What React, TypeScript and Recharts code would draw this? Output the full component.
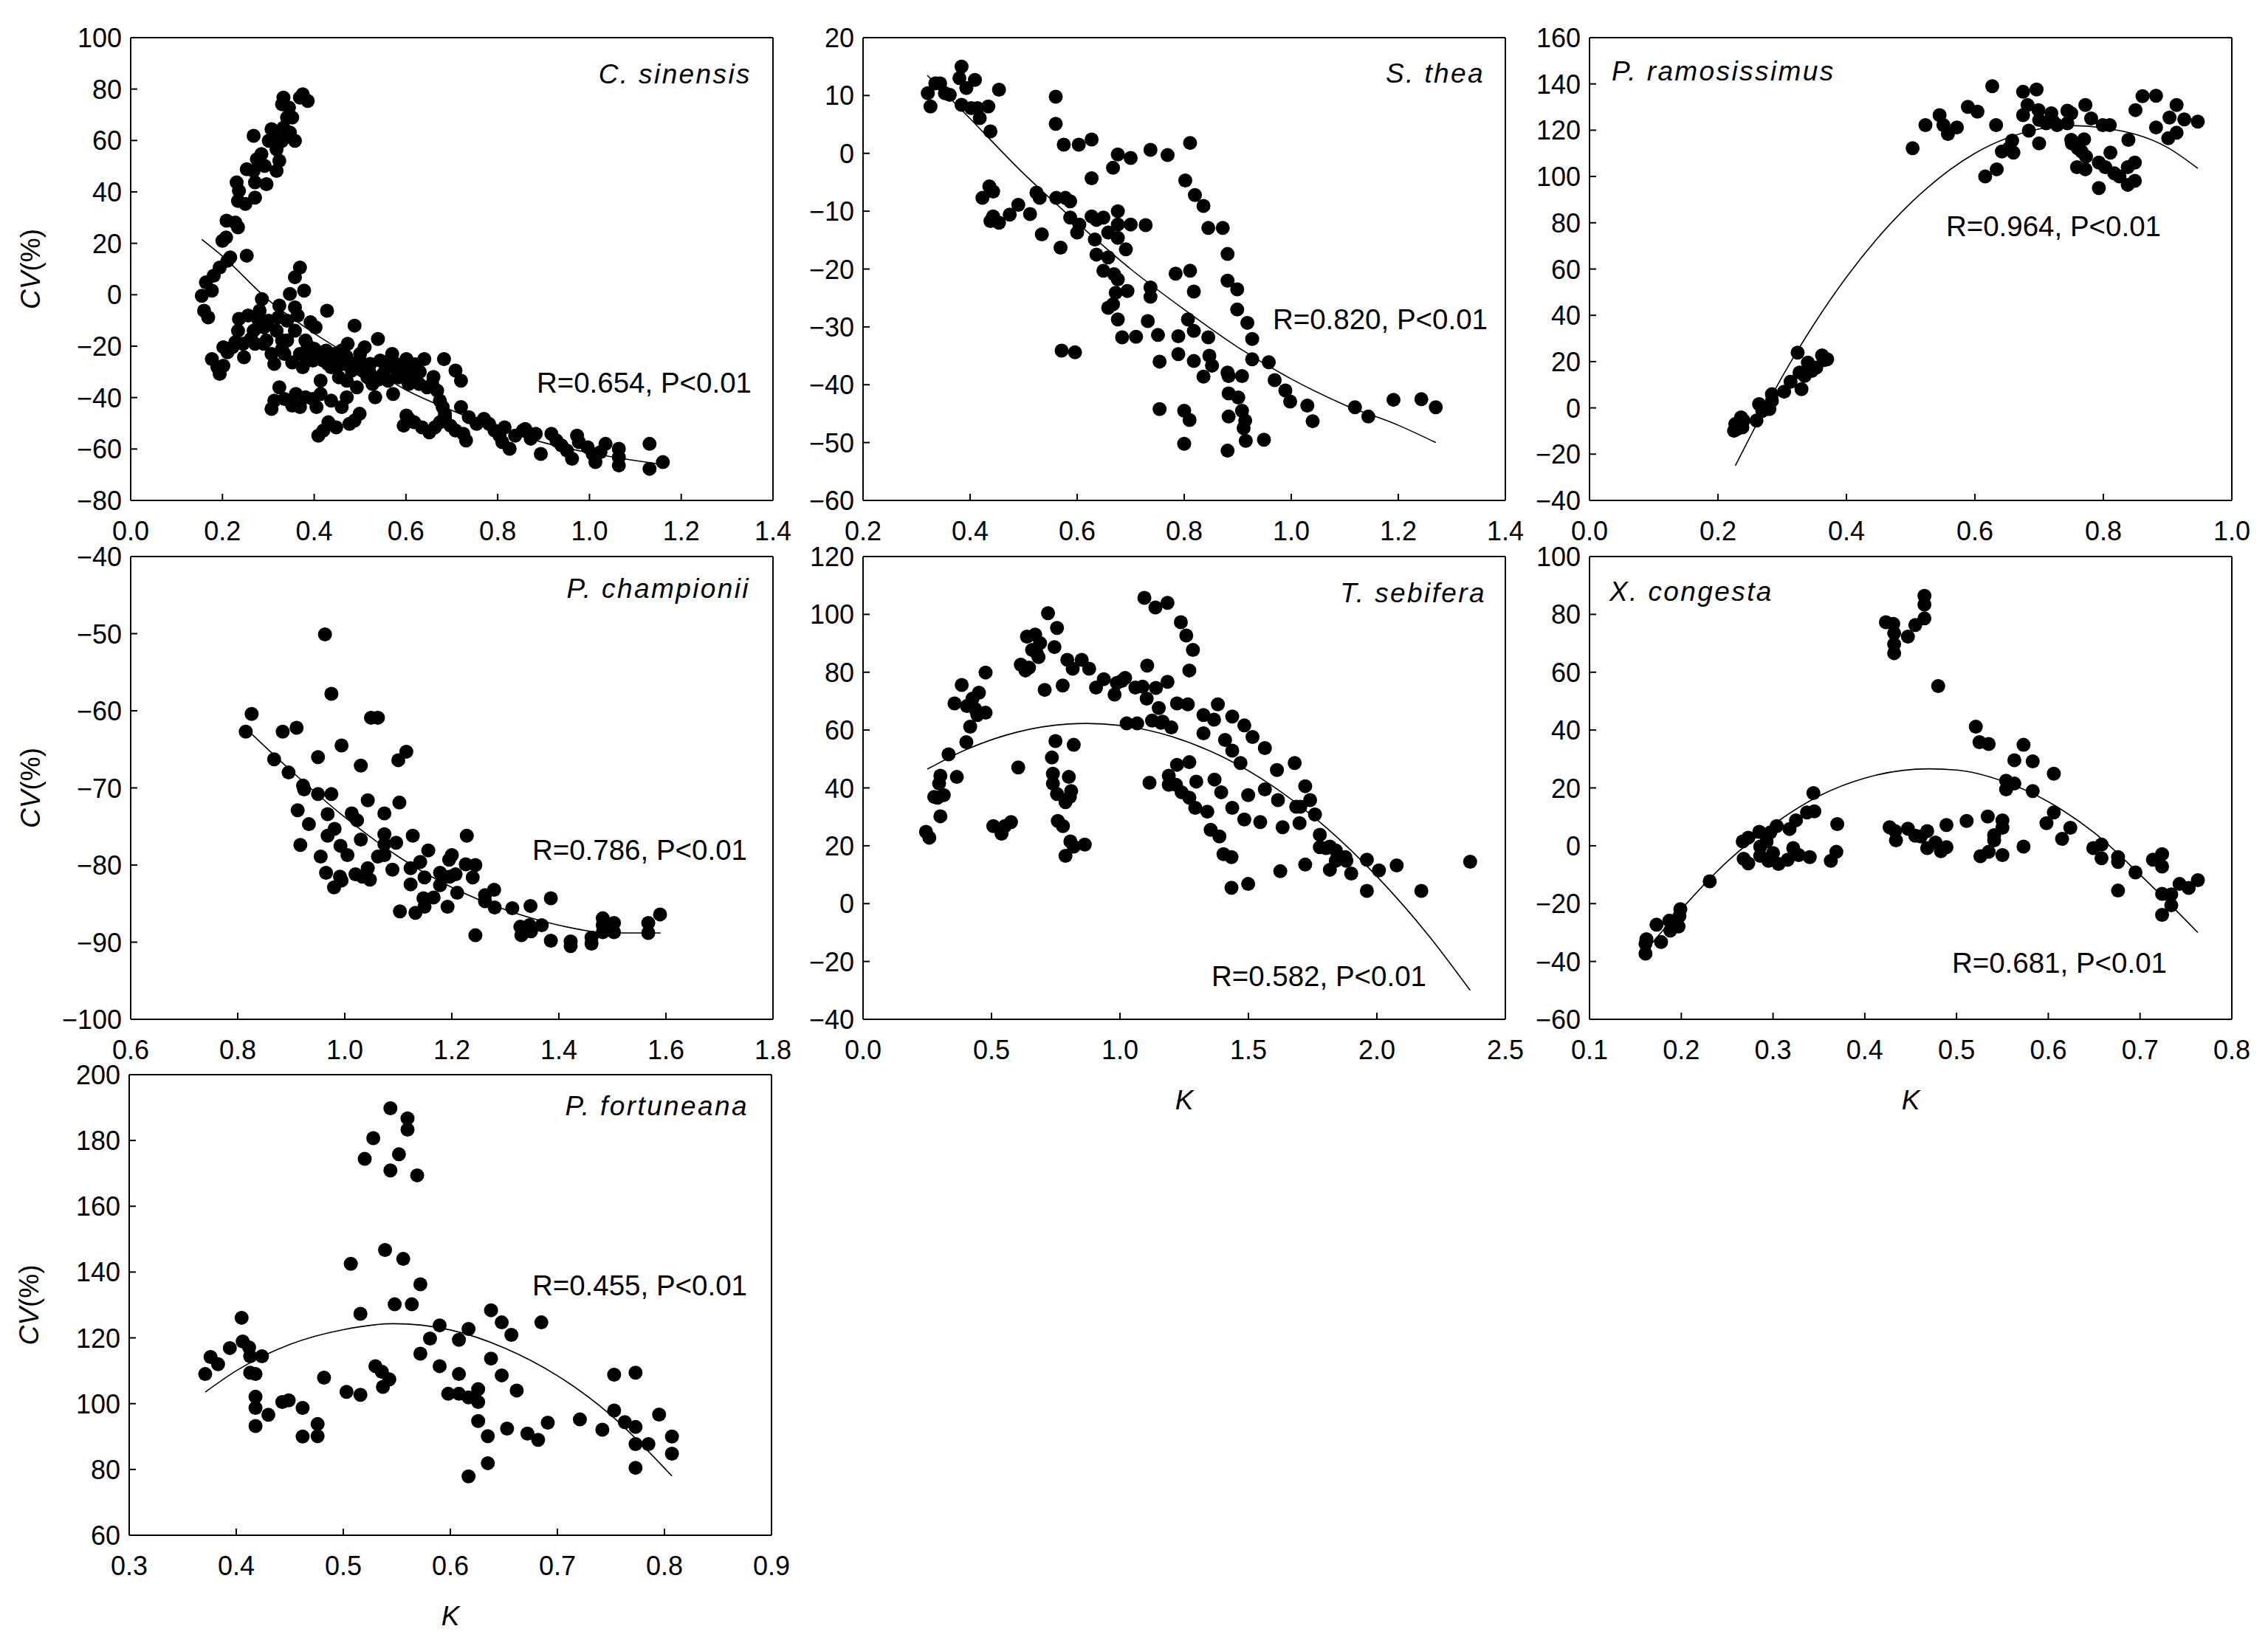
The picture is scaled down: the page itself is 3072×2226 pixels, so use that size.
import React from 'react';
import { ComposedChart, Scatter, Line, XAxis, YAxis, ReferenceLine } from 'recharts';

type Pt = [number, number];

const FONT = '"Liberation Sans", Arial, Helvetica, sans-serif';

// C. sinensis
const sinensisPts: Pt[] = [
  [0.155, -0.4], [0.16, -6.2], [0.169, -8.8], [0.164, 4.8], [0.177, 1.6], [0.181, 7.4], [0.194, 10.6], [0.2, 21],
  [0.208, 22.3], [0.209, 28.8], [0.217, 14.5], [0.211, 13.2], [0.228, 28.1], [0.234, 26.2], [0.234, 36.5], [0.236, 40.4],
  [0.231, 43.7], [0.25, 35.3], [0.253, 48.8], [0.271, 37.8], [0.271, 43.7], [0.268, 48.2], [0.268, 61.8], [0.275, 52.7],
  [0.285, 54.7], [0.296, 43], [0.292, 50.1], [0.301, 59.9], [0.307, 64.4], [0.318, 56.6], [0.318, 48.2], [0.324, 52.1],
  [0.313, 61.2], [0.33, 59.9], [0.33, 74.1], [0.333, 76.7], [0.345, 72.8], [0.341, 68.9], [0.352, 68.9], [0.347, 63.1],
  [0.333, 65], [0.358, 59.9], [0.369, 76.7], [0.375, 78], [0.386, 75.4], [0.253, 15.2],
  [0.177, -25], [0.189, -28.2], [0.194, -30.8], [0.202, -27.6], [0.202, -20.4], [0.211, -22.4], [0.222, -20.4], [0.228, -18.5],
  [0.234, -14], [0.236, -9.4], [0.247, -24.3], [0.245, -19.1], [0.256, -8.1], [0.262, -17.2], [0.268, -14], [0.271, -19.1],
  [0.279, -10.1], [0.281, -6.2], [0.286, -1.7], [0.29, -12.7], [0.29, -19.1], [0.296, -17.8], [0.301, -10.1], [0.307, -23],
  [0.313, -26.9], [0.318, -14], [0.322, -8.8], [0.324, -4.2], [0.33, -17.8], [0.33, -21.1], [0.335, -23], [0.341, -17.8],
  [0.341, -10.1], [0.347, 0.3], [0.352, -26.3], [0.358, -4.9], [0.358, -14], [0.358, 6.8], [0.364, -8.1], [0.369, 10.6],
  [0.369, -23], [0.375, -28.2], [0.378, 1.6], [0.381, -17.8], [0.386, -19.8], [0.392, -10.7], [0.397, -25.6], [0.403, -12.7],
  [0.409, -22.4], [0.414, -33.4], [0.42, -25.6], [0.426, -21.7], [0.428, -6.2], [0.437, -28.2], [0.443, -23], [0.448, -25.6],
  [0.454, -32.1], [0.46, -21.7], [0.465, -26.9], [0.471, -33.4], [0.473, -19.1], [0.482, -29.5], [0.488, -12], [0.493, -36],
  [0.499, -25.6], [0.505, -29.5], [0.51, -20.4], [0.516, -32.1], [0.522, -26.9], [0.527, -34.7], [0.533, -39.9], [0.539, -17.2],
  [0.544, -25.6], [0.55, -30.8], [0.556, -28.2], [0.561, -33.4], [0.57, -23], [0.572, -38.6], [0.578, -26.9], [0.584, -32.1],
  [0.595, -29.5], [0.601, -25], [0.606, -34.7], [0.612, -29.5], [0.618, -32.1], [0.629, -34.7], [0.64, -25], [0.646, -36],
  [0.657, -34.7], [0.668, -37.3], [0.674, -41.2], [0.68, -43.7], [0.683, -25], [0.685, -46.3], [0.708, -29.5], [0.72, -33.4],
  [0.72, -43.7], [0.45, -28], [0.47, -24], [0.49, -27], [0.52, -30], [0.54, -33], [0.56, -26], [0.58, -30], [0.6, -31],
  [0.62, -27], [0.63, -30], [0.66, -32], [0.5, -23], [0.43, -27], [0.4, -21], [0.38, -24],
  [0.307, -44.4], [0.313, -41.2], [0.324, -36], [0.335, -40.5], [0.352, -43.1], [0.36, -38.6], [0.369, -43.7], [0.381, -39.9],
  [0.397, -40.5], [0.405, -43.7], [0.414, -38.6], [0.409, -54.8], [0.42, -52.8], [0.431, -49.6], [0.437, -41.2], [0.448, -51.6],
  [0.46, -43.7], [0.471, -39.9], [0.477, -50.2], [0.488, -48.9], [0.499, -46.3], [0.595, -50.9], [0.601, -47], [0.606, -48.3],
  [0.618, -49.6], [0.635, -51.6], [0.651, -53.5], [0.663, -51.6], [0.674, -49.6], [0.685, -47.6], [0.697, -50.9], [0.708, -52.8],
  [0.725, -54.1], [0.731, -56.7], [0.737, -47.6], [0.754, -50.2], [0.77, -48.3], [0.781, -50.2], [0.793, -52.8], [0.804, -54.8],
  [0.81, -57.3], [0.826, -59.9], [0.815, -51.6], [0.838, -54.8], [0.855, -52.8], [0.86, -52.2], [0.872, -56], [0.883, -54.1],
  [0.894, -61.9], [0.917, -54.1], [0.928, -56.7], [0.939, -58.6], [0.951, -60.6], [0.962, -63.8], [0.973, -54.8], [0.977, -57.3],
  [0.996, -59.3], [1.007, -61.9], [1.013, -65.1], [1.024, -61.2], [1.035, -58], [1.064, -59.9], [1.064, -63.2], [1.064, -66.4],
  [1.131, -58], [1.131, -67.7], [1.16, -65.1],
];
const sinensisFit: Pt[] = [
  [0.155, 21.5], [0.2, 15], [0.3, -2], [0.4, -15], [0.5, -26], [0.6, -37], [0.7, -45], [0.8, -52], [0.9, -57.5],
  [1.0, -61.5], [1.1, -64.5], [1.16, -66],
];
const sinensisX = [0, 0.2, 0.4, 0.6, 0.8, 1.0, 1.2, 1.4];
const sinensisY = [-80, -60, -40, -20, 0, 20, 40, 60, 80, 100];

// S. thea
const theaPts: Pt[] = [
  [0.321, 10.4], [0.326, 8.1], [0.335, 12.1], [0.344, 12.1], [0.353, 10.4], [0.362, 10.1], [0.38, 13], [0.384, 15],
  [0.384, 8.4], [0.393, 11.3], [0.402, 7.8], [0.409, 12.7], [0.414, 7.8], [0.418, 6.1], [0.434, 8.1], [0.438, 3.8],
  [0.454, 11], [0.423, -7.7], [0.436, -5.7], [0.443, -6.6], [0.438, -11.7], [0.443, -10.9], [0.454, -12], [0.474, -10.6],
  [0.49, -8.9], [0.512, -10.5], [0.524, -6.8], [0.53, -7.7], [0.534, -14], [0.56, 9.8], [0.56, 5.1], [0.561, -7.7],
  [0.569, -16.3], [0.571, -34.1], [0.575, 1.5], [0.578, -7.7], [0.587, -8.3], [0.587, -11.1], [0.596, -34.4], [0.6, -13.7],
  [0.603, 1.5], [0.604, -12.3], [0.627, 2.4], [0.627, -4.3], [0.627, -10.9], [0.633, -14.9], [0.636, -11.5], [0.636, -17.5],
  [0.649, -11.1], [0.649, -20.3], [0.658, -13.7], [0.658, -18], [0.658, -26.7], [0.667, -2.5], [0.667, -26.1], [0.669, -20.9],
  [0.672, -24.1], [0.676, -0.2], [0.676, -10], [0.676, -12.3], [0.676, -14.6], [0.676, -21.8], [0.676, -28.7], [0.684, -31.8],
  [0.691, -16.6], [0.694, -23.8], [0.7, -12.3], [0.7, -0.8], [0.71, -31.7], [0.728, -12.4], [0.732, -29], [0.737, 0.6],
  [0.737, -23.2], [0.737, -24.8], [0.751, -31.4], [0.754, -36], [0.754, -44.2], [0.769, -0.3], [0.784, -20.8], [0.789, -31.6],
  [0.789, -34.7], [0.8, -50.2], [0.8, -44.5], [0.802, -4.7], [0.807, -28.7], [0.81, -46.1], [0.811, -20.3], [0.811, 1.8],
  [0.818, -30.7], [0.818, -23.9], [0.818, -35.9], [0.82, -7.2], [0.836, -9.1], [0.836, -38.6], [0.845, -12.9], [0.845, -31.8],
  [0.847, -35], [0.852, -36.7], [0.872, -12.9], [0.881, -17.4], [0.881, -22], [0.881, -37.9], [0.883, -38.5], [0.883, -41.5],
  [0.883, -45.5], [0.881, -51.4], [0.899, -23.5], [0.899, -27], [0.901, -42.2], [0.908, -38.5], [0.908, -44.5], [0.911, -47.5],
  [0.914, -46.2], [0.915, -49.7], [0.918, -29.3], [0.927, -32.1], [0.927, -35.6], [0.949, -49.5], [0.958, -36.1], [0.969, -39.2],
  [0.989, -41], [0.998, -42.9], [1.03, -43.6], [1.04, -46.3], [1.119, -43.9], [1.144, -45.5], [1.191, -42.6], [1.243, -42.5],
  [1.27, -43.9],
];
const theaFit: Pt[] = [
  [0.32, 13.5], [0.4, 6], [0.5, -3.5], [0.6, -12], [0.7, -20], [0.8, -27], [0.9, -33.5], [1.0, -39], [1.1, -43.5],
  [1.2, -47], [1.27, -50],
];
const theaX = [0.2, 0.4, 0.6, 0.8, 1.0, 1.2, 1.4];
const theaY = [-60, -50, -40, -30, -20, -10, 0, 10, 20];

// P. ramosissimus
const ramosPts: Pt[] = [
  [0.225, -9.9], [0.227, -7], [0.23, -9.1], [0.232, -6.3], [0.236, -4.1], [0.24, -5.5], [0.238, -8.4], [0.26, -5.5],
  [0.264, 1.6], [0.269, -1.3], [0.28, -0.5], [0.284, 3.1], [0.284, 5.9], [0.303, 7], [0.313, 11.3], [0.324, 23.9],
  [0.327, 15.3], [0.33, 8.1], [0.335, 13.8], [0.34, 19.6], [0.346, 16], [0.353, 17.4], [0.362, 22.7], [0.365, 20.7],
  [0.37, 21],
  [0.503, 112.2], [0.523, 122.2], [0.545, 126.5], [0.551, 122.2], [0.558, 118.4], [0.572, 121.2], [0.589, 130.1], [0.604, 128],
  [0.616, 100], [0.627, 139], [0.633, 122.2], [0.634, 103.1], [0.642, 110.8], [0.653, 112.2], [0.658, 115.5], [0.66, 110.3],
  [0.675, 136.6], [0.675, 126.5], [0.682, 130.9], [0.684, 119.8], [0.696, 137.6], [0.699, 128.7], [0.7, 124.4], [0.7, 114.3],
  [0.711, 123], [0.719, 127.3], [0.722, 123.7], [0.728, 122.2], [0.744, 128.4], [0.744, 123], [0.75, 127.3], [0.75, 115.8],
  [0.751, 114.3], [0.759, 104], [0.76, 112.2], [0.766, 110.8], [0.77, 116.1], [0.772, 130.9], [0.772, 103.1], [0.773, 108.6],
  [0.781, 125.1], [0.793, 106], [0.793, 95], [0.799, 122.2], [0.803, 104], [0.81, 122.2], [0.811, 110.3], [0.817, 101.4],
  [0.825, 100], [0.838, 104], [0.838, 96.4], [0.839, 115.8], [0.849, 106], [0.849, 98.1], [0.85, 128.7], [0.861, 134.7],
  [0.882, 134.9], [0.882, 121.2], [0.901, 116.5], [0.903, 125.5], [0.914, 130.9], [0.914, 118.9], [0.926, 124.7], [0.947, 123.7],
];
const ramosFit: Pt[] = [
  [0.227, -25], [0.3, 13.5], [0.4, 56.5], [0.5, 88.5], [0.6, 110], [0.7, 120.5], [0.75, 122], [0.8, 121], [0.9, 112.5],
  [0.947, 103.5],
];
const ramosX = [0, 0.2, 0.4, 0.6, 0.8, 1.0];
const ramosY = [-40, -20, 0, 20, 40, 60, 80, 100, 120, 140, 160];

// P. championii
const champPts: Pt[] = [
  [0.815, -62.7], [0.826, -60.4], [0.868, -66.3], [0.884, -62.7], [0.895, -68], [0.91, -62.2], [0.912, -72.9], [0.917, -77.4],
  [0.922, -69.7], [0.924, -70.2], [0.933, -74.7], [0.95, -66], [0.95, -70.8], [0.955, -78.9], [0.963, -50.1], [0.965, -81],
  [0.968, -76.2], [0.968, -73.4], [0.975, -70.8], [0.975, -57.8], [0.98, -82.9], [0.981, -75.3], [0.991, -81.5], [0.992, -77.5],
  [0.994, -82], [0.994, -64.5], [1.005, -78.7], [1.013, -73.3], [1.02, -81.2], [1.023, -74.2], [1.03, -76.7], [1.03, -67.1],
  [1.033, -81.5], [1.043, -71.6], [1.043, -80.4], [1.047, -81.9], [1.049, -60.9], [1.062, -60.9], [1.062, -78.9], [1.074, -73.3],
  [1.074, -76], [1.074, -77.3], [1.074, -78.7], [1.089, -80.6], [1.096, -77.1], [1.1, -66.4], [1.102, -71.9], [1.103, -86],
  [1.115, -65.3], [1.123, -80.4], [1.123, -82.5], [1.127, -76.2], [1.132, -86.2], [1.141, -79.6], [1.147, -84.3], [1.149, -85.4],
  [1.149, -81.6], [1.156, -78.1], [1.166, -84.2], [1.178, -82.6], [1.178, -81], [1.192, -85.4], [1.195, -79.3], [1.196, -81.5],
  [1.2, -78.7], [1.207, -81.2], [1.21, -83.6], [1.226, -79.9], [1.228, -76.2], [1.239, -81.6], [1.244, -80], [1.244, -89.1],
  [1.262, -83.9], [1.262, -84.7], [1.279, -83.2], [1.28, -85.5], [1.313, -85.6], [1.328, -88], [1.33, -89.1], [1.345, -87.8],
  [1.347, -85.3], [1.348, -88.6], [1.368, -87.8], [1.385, -84.3], [1.385, -89.8], [1.422, -89.9], [1.422, -90.5], [1.461, -89.4],
  [1.461, -90.2], [1.482, -86.9], [1.482, -87.8], [1.482, -88.7], [1.503, -87.5], [1.503, -88.7], [1.567, -87.5], [1.567, -88.8],
  [1.589, -86.4],
];
const champFit: Pt[] = [
  [0.826, -63], [0.9, -67.8], [1.0, -73.8], [1.1, -78.9], [1.2, -82.9], [1.3, -85.8], [1.4, -87.8], [1.5, -88.8], [1.59, -88.8],
];
const champX = [0.6, 0.8, 1.0, 1.2, 1.4, 1.6, 1.8];
const champY = [-100, -90, -80, -70, -60, -50, -40];

// T. sebifera
const sebiferaPts: Pt[] = [
  [0.245, 24.8], [0.258, 22.8], [0.277, 36.9], [0.29, 36.6], [0.296, 41.5], [0.301, 44.2], [0.301, 30.2], [0.314, 37.5],
  [0.333, 51.6], [0.356, 69.2], [0.365, 43.8], [0.384, 75.6], [0.402, 55.8], [0.404, 68.3], [0.417, 61.2], [0.426, 70.9],
  [0.436, 67.3], [0.445, 65.2], [0.451, 72.9], [0.477, 79.9], [0.477, 66], [0.507, 26.8], [0.539, 24.2], [0.552, 26.8],
  [0.576, 28.2], [0.604, 47.1], [0.614, 82.6], [0.632, 80.6], [0.638, 92.3], [0.646, 81.6], [0.658, 87.7], [0.67, 93],
  [0.676, 86.6], [0.683, 85.2], [0.689, 90.1], [0.707, 73.9], [0.72, 100.4], [0.735, 50.5], [0.739, 44.9], [0.739, 41.5],
  [0.745, 88.7], [0.749, 56.2], [0.755, 95.3], [0.755, 37.9], [0.758, 28.6], [0.777, 75.4], [0.778, 26.8], [0.788, 35.1],
  [0.788, 16.5], [0.795, 84.3], [0.801, 43.8], [0.805, 36.9], [0.807, 21.5], [0.81, 38.9], [0.816, 81.2], [0.82, 54.9],
  [0.82, 19.7], [0.851, 84.3], [0.863, 20.4], [0.88, 81.2], [0.907, 74.7], [0.937, 77.6], [0.979, 72.3], [0.988, 76.3],
  [1.007, 77], [1.02, 78], [1.026, 62.3], [1.06, 74.7], [1.067, 62.3], [1.088, 75], [1.095, 105.7], [1.104, 70.9],
  [1.106, 82.3], [1.115, 41.8], [1.125, 63.3], [1.138, 102.4], [1.14, 74.6], [1.151, 67.6], [1.16, 62.5], [1.166, 62.9],
  [1.185, 104], [1.185, 76.7], [1.19, 44.2], [1.19, 41.1], [1.2, 60.9], [1.218, 41.1], [1.222, 48], [1.222, 69.2],
  [1.237, 97.3], [1.24, 38.5], [1.258, 92.7], [1.264, 68.9], [1.27, 48.9], [1.27, 80.6], [1.27, 36.6], [1.284, 87.7],
  [1.293, 33.1], [1.297, 42.2], [1.325, 65.2], [1.325, 58.9], [1.34, 31.8], [1.353, 25.5], [1.366, 63.6], [1.368, 42.9],
  [1.381, 68.9], [1.387, 23.2], [1.394, 38.5], [1.403, 17.1], [1.434, 16.1], [1.434, 5.5], [1.437, 64.7], [1.437, 52.9],
  [1.437, 33.1], [1.409, 56.6], [1.469, 48.6], [1.484, 61.6], [1.484, 29.1], [1.499, 37.5], [1.499, 6.8], [1.516, 57.6],
  [1.546, 28.2], [1.564, 39.5], [1.564, 53.8], [1.611, 46.2], [1.615, 35.8], [1.624, 11.2], [1.633, 26.4], [1.68, 48.6],
  [1.686, 33.5], [1.699, 27.8], [1.702, 33.5], [1.721, 40.6], [1.721, 13.5], [1.74, 35.8], [1.759, 30.8], [1.778, 23.8],
  [1.778, 19.5], [1.802, 19.2], [1.817, 19.7], [1.817, 11.7], [1.84, 14.8], [1.84, 18.4], [1.877, 16.1], [1.881, 14.8],
  [1.9, 10.4], [1.961, 15.2], [1.961, 4.4], [2.008, 11.5], [2.077, 13.2], [2.173, 4.4], [2.363, 14.5],
];
const sebiferaFit: Pt[] = [
  [0.25, 46.5], [0.4, 53.2], [0.6, 59.3], [0.8, 62.1], [0.87, 62.3], [1.0, 61.6], [1.2, 57.8], [1.4, 50.7], [1.6, 40.3],
  [1.8, 26.5], [2.0, 9.4], [2.2, -10.9], [2.363, -30],
];
const sebiferaX = [0, 0.5, 1.0, 1.5, 2.0, 2.5];
const sebiferaY = [-40, -20, 0, 20, 40, 60, 80, 100, 120];

// X. congesta
const congestaPts: Pt[] = [
  [0.161, -37.3], [0.161, -33.9], [0.162, -32.3], [0.173, -27.3], [0.178, -33.3], [0.187, -25.9], [0.188, -29.3], [0.197, -27.9],
  [0.198, -24.3], [0.199, -21.9], [0.231, -12.3], [0.267, 1.5], [0.268, -4.5], [0.273, 2.8], [0.273, -6.1], [0.285, 4.8],
  [0.286, -0.3], [0.286, -3.5], [0.293, 1.5], [0.295, -5.2], [0.297, 4.6], [0.3, -2.5], [0.304, 6.8], [0.306, -6.3],
  [0.316, -4.8], [0.318, 5.8], [0.322, -0.8], [0.325, 8.8], [0.328, -3.2], [0.337, 11.5], [0.34, -3.9], [0.344, 18.2],
  [0.345, 11.9], [0.363, -5.2], [0.369, -2.1], [0.37, 7.5], [0.423, 77.3], [0.427, 6.4], [0.431, 76.7], [0.432, 73.5],
  [0.432, 69.7], [0.432, 66.6], [0.433, 5.1], [0.434, 1.9], [0.447, 72.3], [0.447, 5.9], [0.455, 76.3], [0.455, 3.5],
  [0.461, 3.2], [0.465, 78.6], [0.465, 86.4], [0.465, 83.4], [0.468, 5.1], [0.468, -0.8], [0.477, 1.1], [0.48, 55.2],
  [0.483, -1.9], [0.489, 7.2], [0.489, -0.5], [0.511, 8.6], [0.521, 41.2], [0.525, 35.8], [0.526, -3.6], [0.534, 10.1],
  [0.535, 35.2], [0.535, -2.1], [0.541, 3.7], [0.541, 1.9], [0.55, 8.8], [0.55, 6.2], [0.55, -3.2], [0.554, 22.5],
  [0.554, 19.5], [0.563, 29.6], [0.563, 21.5], [0.573, 34.9], [0.573, -0.3], [0.583, 29.2], [0.583, 18.9], [0.598, 7.8],
  [0.606, 24.9], [0.606, 11.5], [0.615, 2.4], [0.624, 6.2], [0.649, -0.8], [0.658, 0.4], [0.658, -4.3], [0.676, -3.9],
  [0.676, -5.6], [0.676, -15.5], [0.695, -9.2], [0.714, -4.8], [0.724, -2.9], [0.724, -7.2], [0.724, -16.6], [0.724, -23.9],
  [0.734, -16.8], [0.734, -20.6], [0.743, -13.2], [0.753, -14.6], [0.763, -11.9],
];
const congestaFit: Pt[] = [
  [0.162, -36], [0.2, -22], [0.25, -5.5], [0.3, 7.3], [0.35, 17.2], [0.4, 23.4], [0.47, 26.6], [0.5, 26.2], [0.55, 22.4],
  [0.6, 15.2], [0.65, 4.5], [0.7, -10], [0.763, -30],
];
const congestaX = [0.1, 0.2, 0.3, 0.4, 0.5, 0.6, 0.7, 0.8];
const congestaY = [-60, -40, -20, 0, 20, 40, 60, 80, 100];

// P. fortuneana
const fortunePts: Pt[] = [
  [0.371, 109], [0.376, 114.2], [0.383, 112], [0.394, 116.9], [0.405, 126.1], [0.406, 118.9], [0.412, 117.1], [0.413, 114.4],
  [0.413, 109.4], [0.418, 109], [0.418, 102.1], [0.418, 98.7], [0.418, 93.2], [0.424, 114.4], [0.43, 96.6], [0.443, 100.5],
  [0.449, 101], [0.462, 98.7], [0.462, 90], [0.476, 93.8], [0.476, 90.1], [0.482, 107.9], [0.503, 103.6], [0.507, 142.5],
  [0.516, 127.3], [0.516, 102.7], [0.52, 174.4], [0.528, 180.7], [0.53, 111.4], [0.536, 109.7], [0.537, 105.1], [0.539, 146.7],
  [0.543, 107.4], [0.544, 189.8], [0.544, 170.9], [0.548, 130.2], [0.552, 175.8], [0.556, 144], [0.56, 186.7], [0.56, 183.3],
  [0.564, 130.2], [0.569, 169.4], [0.572, 136.3], [0.572, 115.2], [0.581, 119.8], [0.59, 123.8], [0.59, 111.4], [0.598, 103],
  [0.608, 103], [0.608, 119.4], [0.608, 109], [0.617, 122.7], [0.617, 101.9], [0.626, 104.4], [0.626, 100.5], [0.626, 94.7],
  [0.617, 77.9], [0.635, 90.1], [0.635, 81.9], [0.638, 128.4], [0.638, 113.7], [0.648, 124.7], [0.648, 108.6], [0.653, 92.4],
  [0.657, 120.9], [0.662, 104], [0.672, 90.9], [0.682, 89], [0.685, 124.7], [0.691, 94.2], [0.721, 95.2], [0.742, 92.1],
  [0.753, 108.8], [0.753, 97.9], [0.763, 94.4], [0.773, 109.4], [0.773, 92.9], [0.773, 87.7], [0.773, 80.5], [0.785, 87.7],
  [0.795, 96.7], [0.807, 90], [0.807, 84.8],
];
const fortuneFit: Pt[] = [
  [0.371, 103.5], [0.4, 110], [0.45, 118], [0.5, 122.5], [0.547, 124.3], [0.6, 122.4], [0.65, 117], [0.7, 108.5],
  [0.75, 96.5], [0.807, 78],
];
const fortuneX = [0.3, 0.4, 0.5, 0.6, 0.7, 0.8, 0.9];
const fortuneY = [60, 80, 100, 120, 140, 160, 180, 200];

const YW = 170;
const TM = 20;
const RM = 50;
const XH = 140;

const fmtY = (v: number) => (v < 0 ? `\u2212${Math.abs(v)}` : `${v}`);
const isEdge = (v: number, dom: number[]) => Math.abs(v - dom[0]) < 1e-9 || Math.abs(v - dom[1]) < 1e-9;

function XTick(props: any) {
  const { x, y, payload, dom } = props;
  const v = payload.value as number;
  return (
    <g>
      {!isEdge(v, dom) && <line x1={x} x2={x} y1={y} y2={y - 9} stroke="#000" strokeWidth={2} />}
      <text x={x} y={y + 54} textAnchor="middle" fontSize={36} fontFamily={FONT} fill="#000">
        {v.toFixed(1)}
      </text>
    </g>
  );
}

function YTick(props: any) {
  const { x, y, payload, dom } = props;
  const v = payload.value as number;
  const ax = x + 12;
  return (
    <g>
      {!isEdge(v, dom) && <line x1={ax} x2={ax + 9} y1={y} y2={y} stroke="#000" strokeWidth={2} />}
      <text x={x} y={y + 13} textAnchor="end" fontSize={36} fontFamily={FONT} fill="#000">
        {fmtY(v)}
      </text>
    </g>
  );
}

const Dot = (p: any) => <circle cx={p.cx} cy={p.cy} r={9.5} fill="#000" />;

type PanelProps = {
  pts: Pt[];
  fit: Pt[];
  xTicks: number[];
  yTicks: number[];
  left: number;
  top: number;
  w: number;
  h: number;
  species: string;
  speciesSide: 'left' | 'right';
  speciesDx: number;
  speciesDy: number;
  stat: string;
  statDx: number;
  statDy: number;
  yTitle?: boolean;
  xTitle?: boolean;
};

function Panel(p: PanelProps) {
  const data = p.pts.map(([k, cv]) => ({ k, cv }));
  const fitData = p.fit.map(([k, cv]) => ({ k, cv }));
  const xDom = [p.xTicks[0], p.xTicks[p.xTicks.length - 1]];
  const yDom = [p.yTicks[0], p.yTicks[p.yTicks.length - 1]];
  const W = YW + p.w + RM;
  const H = TM + p.h + XH;
  const axisLine = { stroke: '#000', strokeWidth: 2 };

  return (
    <div style={{ position: 'absolute', left: p.left - YW, top: p.top - TM, width: W, height: H }}>
      <ComposedChart width={W} height={H} margin={{ top: TM, right: RM, left: 0, bottom: 0 }}>
        <XAxis
          dataKey="k"
          type="number"
          domain={xDom}
          ticks={p.xTicks}
          interval={0}
          height={XH}
          tickSize={0}
          tickMargin={0}
          tickLine={false}
          axisLine={axisLine}
          tick={(t: any) => <XTick {...t} dom={xDom} />}
        />
        <YAxis
          dataKey="cv"
          type="number"
          domain={yDom}
          ticks={p.yTicks}
          interval={0}
          width={YW}
          tickSize={0}
          tickMargin={12}
          tickLine={false}
          axisLine={axisLine}
          tick={(t: any) => <YTick {...t} dom={yDom} />}
        />
        <ReferenceLine y={yDom[1]} stroke="#000" strokeWidth={2} />
        <ReferenceLine x={xDom[1]} stroke="#000" strokeWidth={2} />
        <Line
          data={fitData}
          dataKey="cv"
          type="monotone"
          stroke="#000"
          strokeWidth={1.6}
          dot={false}
          activeDot={false}
          isAnimationActive={false}
        />
        <Scatter data={data} dataKey="cv" shape={Dot} isAnimationActive={false} />
      </ComposedChart>
      <svg
        width={W}
        height={H}
        style={{ position: 'absolute', left: 0, top: 0, pointerEvents: 'none' }}
        fontFamily={FONT}
        fill="#000"
      >
        <text
          x={p.speciesSide === 'right' ? YW + p.w - p.speciesDx : YW + p.speciesDx}
          y={TM + p.speciesDy}
          textAnchor={p.speciesSide === 'right' ? 'end' : 'start'}
          fontStyle="italic"
          fontSize={37}
          letterSpacing={2.4}
        >
          {p.species}
        </text>
        <text x={YW + p.w - p.statDx} y={TM + p.statDy} textAnchor="end" fontSize={38.5}>
          {p.stat}
        </text>
        {p.yTitle && (
          <text transform={`translate(${YW - 123}, ${TM + p.h / 2}) rotate(-90)`} textAnchor="middle" fontSize={37}>
            <tspan fontStyle="italic">CV</tspan>(%)
          </text>
        )}
        {p.xTitle && (
          <text x={YW + p.w / 2} y={TM + p.h + 122} textAnchor="middle" fontStyle="italic" fontSize={37}>
            K
          </text>
        )}
      </svg>
    </div>
  );
}

export default function App() {
  const cols = [177, 1169, 2153];
  const rows = [51, 754, 1456];
  return (
    <div style={{ position: 'absolute', left: 0, top: 0, width: 3072, height: 2226, background: '#fff' }}>
      <Panel pts={sinensisPts} fit={sinensisFit} xTicks={sinensisX} yTicks={sinensisY} left={cols[0]} top={rows[0]} w={870} h={627}
        species="C. sinensis" speciesSide="right" speciesDx={29} speciesDy={62} stat="R=0.654, P<0.01" statDx={29} statDy={481} yTitle />
      <Panel pts={theaPts} fit={theaFit} xTicks={theaX} yTicks={theaY} left={cols[1]} top={rows[0]} w={870} h={627}
        species="S. thea" speciesSide="right" speciesDx={28} speciesDy={61} stat="R=0.820, P<0.01" statDx={24} statDy={395} />
      <Panel pts={ramosPts} fit={ramosFit} xTicks={ramosX} yTicks={ramosY} left={cols[2]} top={rows[0]} w={870} h={627}
        species="P. ramosissimus" speciesSide="left" speciesDx={30} speciesDy={58} stat="R=0.964, P<0.01" statDx={96} statDy={269} />
      <Panel pts={champPts} fit={champFit} xTicks={champX} yTicks={champY} left={cols[0]} top={rows[1]} w={870} h={627}
        species="P. championii" speciesSide="right" speciesDx={31} speciesDy={56} stat="R=0.786, P<0.01" statDx={35} statDy={411} yTitle />
      <Panel pts={sebiferaPts} fit={sebiferaFit} xTicks={sebiferaX} yTicks={sebiferaY} left={cols[1]} top={rows[1]} w={870} h={627}
        species="T. sebifera" speciesSide="right" speciesDx={26} speciesDy={62} stat="R=0.582, P<0.01" statDx={107} statDy={582} xTitle />
      <Panel pts={congestaPts} fit={congestaFit} xTicks={congestaX} yTicks={congestaY} left={cols[2]} top={rows[1]} w={870} h={627}
        species="X. congesta" speciesSide="left" speciesDx={27} speciesDy={60} stat="R=0.681, P<0.01" statDx={88} statDy={564} xTitle />
      <Panel pts={fortunePts} fit={fortuneFit} xTicks={fortuneX} yTicks={fortuneY} left={cols[0] - 2} top={rows[2]} w={870} h={624}
        species="P. fortuneana" speciesSide="right" speciesDx={31} speciesDy={55} stat="R=0.455, P<0.01" statDx={33} statDy={299} yTitle xTitle />
    </div>
  );
}
